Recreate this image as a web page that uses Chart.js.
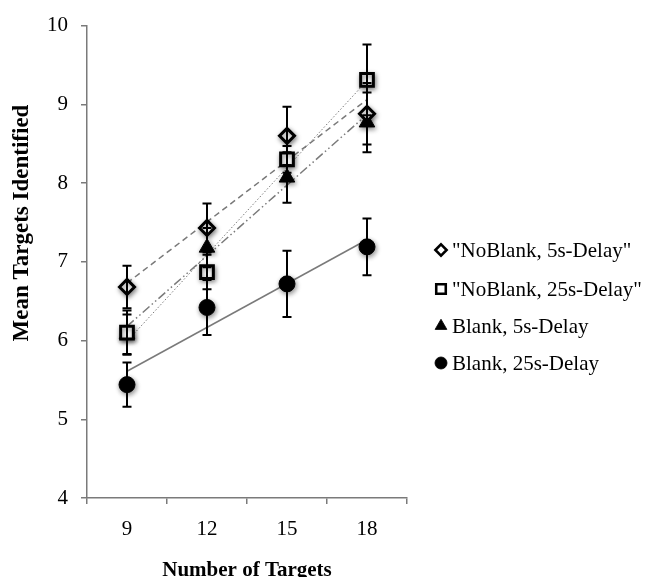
<!DOCTYPE html>
<html>
<head>
<meta charset="utf-8">
<script src="https://cdn.jsdelivr.net/npm/chart.js@4.4.1/dist/chart.umd.min.js"></script>
<style>
  html, body { margin: 0; padding: 0; background: #fff; overflow: hidden; }
  canvas { display: block; }
</style>
</head>
<body>
<canvas id="chart" width="656" height="600"></canvas>
<script>
// number of targets on the x axis
const targets = ["9", "12", "15", "18"];
const seriesNames = ['"NoBlank, 5s-Delay"', '"NoBlank, 25s-Delay"', "Blank, 5s-Delay", "Blank, 25s-Delay"];

// mean targets identified
const noBlank5 = [6.68, 7.43, 8.60, 8.88];
const noBlank25 = [6.10, 6.87, 8.30, 9.31];
const blank5 = [6.08, 7.18, 8.07, 8.77];
const blank25 = [5.44, 6.42, 6.72, 7.19];

// error bar half lengths
const noBlank5Err = [0.27, 0.31, 0.37, 0.39];
const noBlank25Err = [0.28, 0.22, 0.17, 0.45];
const blank5Err = [0.25, 0.25, 0.32, 0.38];
const blank25Err = [0.28, 0.35, 0.42, 0.36];

// linear trend lines: value at 9 and at 18
const noBlank5Trend = [6.73, 9.06];
const noBlank25Trend = [5.99, 9.30];
const blank5Trend = [6.18, 8.87];
const blank25Trend = [5.61, 7.28];

const yMin = 4, yMax = 10, yStep = 1;

const serif = "'Liberation Serif', 'Times New Roman', serif";
const grey = "#7a7a7a";

const values = [noBlank5, noBlank25, blank5, blank25];
const errors = [noBlank5Err, noBlank25Err, blank5Err, blank25Err];
const trends = [noBlank5Trend, noBlank25Trend, blank5Trend, blank25Trend];

const markers = [
  { pointStyle: "rectRot", pointRadius: 7.5, pointBackgroundColor: "#fff", pointBorderColor: "#000", pointBorderWidth: 3 },
  { pointStyle: "rect", pointRadius: 9, pointBackgroundColor: "#fff", pointBorderColor: "#000", pointBorderWidth: 3 },
  { pointStyle: "triangle", pointRadius: 9, pointBackgroundColor: "#000", pointBorderColor: "#000", pointBorderWidth: 1 },
  { pointStyle: "circle", pointRadius: 8, pointBackgroundColor: "#000", pointBorderColor: "#000", pointBorderWidth: 1 },
];
const trendDash = [[6, 4], [1.5, 2], [9, 3, 1.5, 3, 1.5, 3], []];
const trendWidth = [1.5, 1, 1.5, 1.5];

const datasets = [];
values.forEach((v, i) => {
  datasets.push(Object.assign({
    label: seriesNames[i],
    data: v,
    showLine: false,
    borderColor: "#000",
  }, markers[i]));
});
trends.forEach((t, i) => {
  datasets.push({
    label: "trend " + i,
    data: [{ x: targets[0], y: t[0] }, { x: targets[targets.length - 1], y: t[1] }],
    borderColor: grey,
    borderWidth: trendWidth[i],
    borderDash: trendDash[i],
    pointRadius: 0,
    fill: false,
  });
});

// soft shadow under the markers
const markerShadow = {
  id: "markerShadow",
  beforeDatasetDraw(chart, args) {
    if (args.index < values.length) {
      const ctx = chart.ctx;
      ctx.save();
      ctx.shadowColor = "rgba(0,0,0,0.45)";
      ctx.shadowBlur = 5;
      ctx.shadowOffsetX = 1;
      ctx.shadowOffsetY = 2;
    }
  },
  afterDatasetDraw(chart, args) {
    if (args.index < values.length) chart.ctx.restore();
  }
};

const errorBars = {
  id: "errorBars",
  afterDatasetsDraw(chart) {
    const ctx = chart.ctx;
    const y = chart.scales.y;
    ctx.save();
    ctx.strokeStyle = "#000";
    ctx.lineWidth = 2;
    errors.forEach((err, i) => {
      const meta = chart.getDatasetMeta(i);
      meta.data.forEach((pt, j) => {
        const top = y.getPixelForValue(values[i][j] + err[j]);
        const bot = y.getPixelForValue(values[i][j] - err[j]);
        ctx.beginPath();
        ctx.moveTo(pt.x, top); ctx.lineTo(pt.x, bot);
        ctx.moveTo(pt.x - 4.5, top); ctx.lineTo(pt.x + 4.5, top);
        ctx.moveTo(pt.x - 4.5, bot); ctx.lineTo(pt.x + 4.5, bot);
        ctx.stroke();
      });
    });
    ctx.restore();
  }
};

const sideText = {
  id: "sideText",
  afterDraw(chart) {
    const ctx = chart.ctx;
    const area = chart.chartArea;
    ctx.save();
    // y axis title
    ctx.fillStyle = "#000";
    ctx.font = "bold 23px " + serif;
    ctx.textAlign = "center";
    ctx.textBaseline = "middle";
    ctx.translate(22, 223);
    ctx.rotate(-Math.PI / 2);
    ctx.fillText("Mean Targets Identified", 0, 0);
    ctx.restore();

    // legend
    ctx.save();
    ctx.font = "21px " + serif;
    ctx.textBaseline = "middle";
    ctx.textAlign = "left";
    const rowY = [250, 289, 326, 363];
    seriesNames.forEach((name, i) => {
      const m = markers[i];
      ctx.fillStyle = m.pointBackgroundColor;
      ctx.strokeStyle = m.pointBorderColor;
      ctx.lineWidth = m.pointBorderWidth * 0.85;
      Chart.helpers.drawPoint(ctx, {
        pointStyle: m.pointStyle,
        radius: m.pointRadius * 0.75,
        rotation: 0,
        borderWidth: m.pointBorderWidth * 0.85
      }, area.right + 34, rowY[i]);
      ctx.fillStyle = "#000";
      ctx.fillText(name, area.right + 45, rowY[i] + 1);
    });
    ctx.restore();
  }
};

new Chart(document.getElementById("chart"), {
  type: "line",
  data: { labels: targets, datasets: datasets },
  options: {
    responsive: false,
    animation: false,
    devicePixelRatio: 1,
    layout: { padding: { top: 17, right: 249, left: 0, bottom: 0 } },
    plugins: { legend: { display: false }, tooltip: { enabled: false } },
    scales: {
      x: {
        type: "category",
        offset: true,
        grid: { offset: true, drawOnChartArea: false, color: grey, lineWidth: 1.5, tickLength: 6 },
        border: { color: grey, width: 1.5 },
        ticks: { color: "#000", font: { family: serif, size: 21 }, padding: 13, maxRotation: 0 },
        title: { display: true, text: "Number of Targets", color: "#000", font: { family: serif, size: 21, weight: "bold" }, padding: { top: 0, bottom: 17 } },
        afterFit(scale) { scale.height = 102; }
      },
      y: {
        min: yMin, max: yMax,
        ticks: { stepSize: yStep, color: "#000", font: { family: serif, size: 21 }, padding: 13 },
        grid: { drawOnChartArea: false, color: grey, lineWidth: 1.5, tickLength: 6 },
        border: { color: grey, width: 1.5 },
        afterFit(scale) { scale.width = 87; }
      }
    }
  },
  plugins: [markerShadow, errorBars, sideText]
});
</script>
</body>
</html>
